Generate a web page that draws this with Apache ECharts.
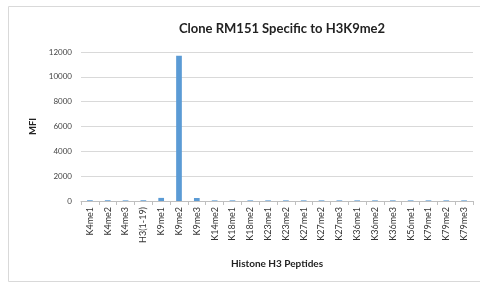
<!DOCTYPE html>
<html><head><meta charset="utf-8">
<script src="https://cdn.jsdelivr.net/npm/echarts@6/dist/echarts.min.js"></script>
<style>html,body{margin:0;padding:0;background:#fff}#c{width:480px;height:285px}</style>
</head><body><div id="c"></div>
<script>
const categories = ["K4me1","K4me2","K4me3","H3(1-19)","K9me1","K9me2","K9me3","K14me2","K18me1","K18me2","K23me1","K23me2","K27me1","K27me2","K27me3","K36me1","K36me2","K36me3","K56me1","K79me1","K79me2","K79me3"];
const mfi = [60,60,50,60,250,11700,240,50,50,50,50,50,50,50,50,50,50,50,50,50,50,50];
const yTicks = {min:0, max:12000, interval:2000};
const chart = echarts.init(document.getElementById('c'));
chart.setOption({
  animation:false,
  textStyle:{fontFamily:'Lato'},
  title:{text:'Clone RM151 Specific to H3K9me2',left:277,textAlign:'center',top:17,textStyle:{fontSize:13,fontWeight:'bold',color:'#222',fontFamily:'Lato'}},
  graphic:[{type:'rect',shape:{x:8.5,y:6.5,width:480,height:275},style:{fill:'none',stroke:'#d9d9d9',lineWidth:1},silent:true}],
  grid:{left:81,right:7,top:52,bottom:84},
  xAxis:{type:'category',data:categories,
    name:'Histone H3 Peptides',nameLocation:'middle',nameGap:58,
    nameTextStyle:{fontSize:10,fontWeight:'bold',color:'#222',fontFamily:'Lato'},
    axisLine:{lineStyle:{color:'#bfbfbf'}},
    axisTick:{show:true,lineStyle:{color:'#bfbfbf'},length:4},
    axisLabel:{rotate:90,interval:0,fontSize:9,color:'#333',margin:6}},
  yAxis:{type:'value',min:yTicks.min,max:yTicks.max,interval:yTicks.interval,
    name:'MFI',nameLocation:'middle',nameGap:34,
    nameTextStyle:{fontSize:9.5,fontWeight:'bold',color:'#222',fontFamily:'Lato'},
    axisLine:{show:false},axisTick:{show:false},
    splitLine:{lineStyle:{color:'#d9d9d9'}},
    axisLabel:{fontSize:8,color:'#444',margin:9,formatter:v=>String(v)}},
  series:[{type:'bar',data:mfi,barWidth:'32%',itemStyle:{color:'#5b9bd5'}}]
});
</script></body></html>
